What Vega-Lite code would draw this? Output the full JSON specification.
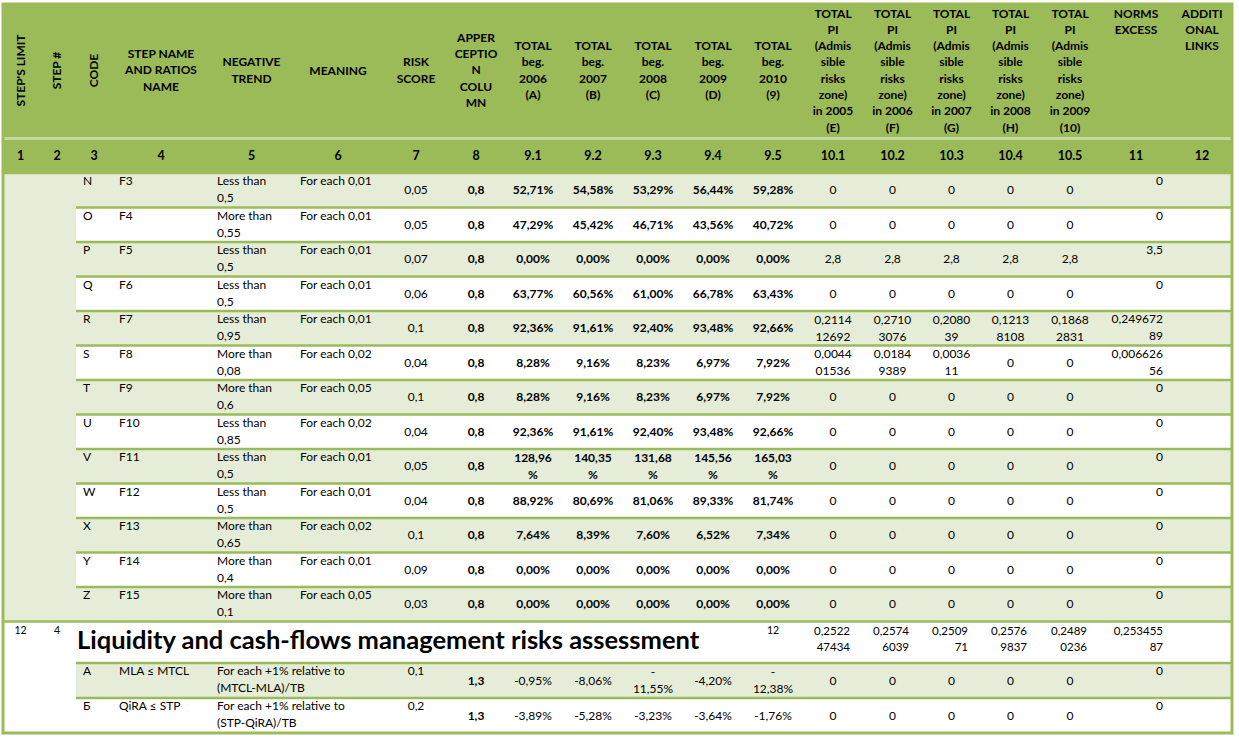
{
"$schema": "https://vega.github.io/schema/vega-lite/v6.json",
"width": 1239, "height": 739,
"autosize": {"type": "fit", "contains": "padding"},
"padding": 0,
"background": "#ffffff",
"config": {"view": {"stroke": null}, "font": "Lato", "text": {"font": "Lato", "color": "#000000"}},
"datasets": {
"cols": [
{"col":"limit","x0":3,"x1":38,"xm":20.5},
{"col":"step","x0":38,"x1":76,"xm":57},
{"col":"code","x0":76,"x1":112,"xm":94},
{"col":"name","x0":112,"x1":210,"xm":161},
{"col":"trend","x0":210,"x1":293,"xm":251.5},
{"col":"meaning","x0":293,"x1":383,"xm":338},
{"col":"risk","x0":383,"x1":449,"xm":416},
{"col":"coef","x0":449,"x1":503,"xm":476},
{"col":"t2006","x0":503,"x1":563,"xm":533},
{"col":"t2007","x0":563,"x1":623,"xm":593},
{"col":"t2008","x0":623,"x1":683,"xm":653},
{"col":"t2009","x0":683,"x1":743,"xm":713},
{"col":"t2010","x0":743,"x1":803,"xm":773},
{"col":"pi2005","x0":803,"x1":863,"xm":833},
{"col":"pi2006","x0":863,"x1":922,"xm":892.5},
{"col":"pi2007","x0":922,"x1":981,"xm":951.5},
{"col":"pi2008","x0":981,"x1":1040,"xm":1010.5},
{"col":"pi2009","x0":1040,"x1":1100,"xm":1070},
{"col":"excess","x0":1100,"x1":1172,"xm":1136},
{"col":"links","x0":1172,"x1":1232,"xm":1202},
{"col":"title","x0":76,"x1":743,"xm":409.5}
],
"rows": [
{"r":"head","y0":4,"y1":137,"ym":70.5},
{"r":"num","y0":140,"y1":172,"ym":156},
{"r":"N","y0":173,"y1":207.5,"ym":190.25},
{"r":"O","y0":207.5,"y1":242,"ym":224.75},
{"r":"P","y0":242,"y1":276.5,"ym":259.25},
{"r":"Q","y0":276.5,"y1":311,"ym":293.75},
{"r":"R","y0":311,"y1":345.5,"ym":328.25},
{"r":"S","y0":345.5,"y1":380,"ym":362.75},
{"r":"T","y0":380,"y1":414.5,"ym":397.25},
{"r":"U","y0":414.5,"y1":449,"ym":431.75},
{"r":"V","y0":449,"y1":483.5,"ym":466.25},
{"r":"W","y0":483.5,"y1":518,"ym":500.75},
{"r":"X","y0":518,"y1":552.5,"ym":535.25},
{"r":"Y","y0":552.5,"y1":587,"ym":569.75},
{"r":"Z","y0":587,"y1":621.5,"ym":604.25},
{"r":"L","y0":621.5,"y1":663,"ym":642.25},
{"r":"A","y0":663,"y1":698,"ym":680.5},
{"r":"B","y0":698,"y1":733,"ym":715.5}
],
"spans": [
{"g":"band","c0":"limit","c1":"links","r0":"head","r1":"num"},
{"g":"head","c0":"limit","c1":"links","r0":"head","r1":"head"},
{"g":"head","c0":"limit","c1":"links","r0":"num","r1":"num"},
{"g":"shade","c0":"limit","c1":"step","r0":"N","r1":"Z"},
{"g":"shade","c0":"code","c1":"links","r0":"N","r1":"N"},
{"g":"plain","c0":"code","c1":"links","r0":"O","r1":"O"},
{"g":"shade","c0":"code","c1":"links","r0":"P","r1":"P"},
{"g":"plain","c0":"code","c1":"links","r0":"Q","r1":"Q"},
{"g":"shade","c0":"code","c1":"links","r0":"R","r1":"R"},
{"g":"plain","c0":"code","c1":"links","r0":"S","r1":"S"},
{"g":"shade","c0":"code","c1":"links","r0":"T","r1":"T"},
{"g":"plain","c0":"code","c1":"links","r0":"U","r1":"U"},
{"g":"shade","c0":"code","c1":"links","r0":"V","r1":"V"},
{"g":"plain","c0":"code","c1":"links","r0":"W","r1":"W"},
{"g":"shade","c0":"code","c1":"links","r0":"X","r1":"X"},
{"g":"plain","c0":"code","c1":"links","r0":"Y","r1":"Y"},
{"g":"shade","c0":"code","c1":"links","r0":"Z","r1":"Z"},
{"g":"plain","c0":"limit","c1":"links","r0":"L","r1":"L"},
{"g":"plain","c0":"limit","c1":"step","r0":"A","r1":"B"},
{"g":"shade","c0":"code","c1":"links","r0":"A","r1":"A"},
{"g":"plain","c0":"code","c1":"links","r0":"B","r1":"B"},
{"g":"frame","c0":"limit","c1":"links","r0":"head","r1":"B"}
],
"lines": [
{"r":"N","c0":"limit","c1":"links"},
{"r":"O","c0":"code","c1":"links"},
{"r":"P","c0":"code","c1":"links"},
{"r":"Q","c0":"code","c1":"links"},
{"r":"R","c0":"code","c1":"links"},
{"r":"S","c0":"code","c1":"links"},
{"r":"T","c0":"code","c1":"links"},
{"r":"U","c0":"code","c1":"links"},
{"r":"V","c0":"code","c1":"links"},
{"r":"W","c0":"code","c1":"links"},
{"r":"X","c0":"code","c1":"links"},
{"r":"Y","c0":"code","c1":"links"},
{"r":"Z","c0":"code","c1":"links"},
{"r":"L","c0":"limit","c1":"links"},
{"r":"A","c0":"code","c1":"links"},
{"r":"B","c0":"code","c1":"links"}
],
"header": [
{"r":"head","col":"limit","t":"STEP'S LIMIT"},
{"r":"head","col":"step","t":"STEP #"},
{"r":"head","col":"code","t":"CODE"},
{"r":"head","col":"name","t":["STEP NAME","AND RATIOS","NAME"]},
{"r":"head","col":"trend","t":["NEGATIVE","TREND"]},
{"r":"head","col":"meaning","t":"MEANING"},
{"r":"head","col":"risk","t":["RISK","SCORE"]},
{"r":"head","col":"coef","t":["APPER","CEPTIO","N","COLU","MN"]},
{"r":"head","col":"t2006","t":["TOTAL","beg.","2006","(A)"]},
{"r":"head","col":"t2007","t":["TOTAL","beg.","2007","(B)"]},
{"r":"head","col":"t2008","t":["TOTAL","beg.","2008","(C)"]},
{"r":"head","col":"t2009","t":["TOTAL","beg.","2009","(D)"]},
{"r":"head","col":"t2010","t":["TOTAL","beg.","2010","(9)"]},
{"r":"head","col":"pi2005","t":["TOTAL","PI","(Admis","sible","risks","zone)","in 2005","(E)"]},
{"r":"head","col":"pi2006","t":["TOTAL","PI","(Admis","sible","risks","zone)","in 2006","(F)"]},
{"r":"head","col":"pi2007","t":["TOTAL","PI","(Admis","sible","risks","zone)","in 2007","(G)"]},
{"r":"head","col":"pi2008","t":["TOTAL","PI","(Admis","sible","risks","zone)","in 2008","(H)"]},
{"r":"head","col":"pi2009","t":["TOTAL","PI","(Admis","sible","risks","zone)","in 2009","(10)"]},
{"r":"head","col":"excess","t":["NORMS","EXCESS"]},
{"r":"head","col":"links","t":["ADDITI","ONAL","LINKS"]},
{"r":"num","col":"limit","t":"1"},
{"r":"num","col":"step","t":"2"},
{"r":"num","col":"code","t":"3"},
{"r":"num","col":"name","t":"4"},
{"r":"num","col":"trend","t":"5"},
{"r":"num","col":"meaning","t":"6"},
{"r":"num","col":"risk","t":"7"},
{"r":"num","col":"coef","t":"8"},
{"r":"num","col":"t2006","t":"9.1"},
{"r":"num","col":"t2007","t":"9.2"},
{"r":"num","col":"t2008","t":"9.3"},
{"r":"num","col":"t2009","t":"9.4"},
{"r":"num","col":"t2010","t":"9.5"},
{"r":"num","col":"pi2005","t":"10.1"},
{"r":"num","col":"pi2006","t":"10.2"},
{"r":"num","col":"pi2007","t":"10.3"},
{"r":"num","col":"pi2008","t":"10.4"},
{"r":"num","col":"pi2009","t":"10.5"},
{"r":"num","col":"excess","t":"11"},
{"r":"num","col":"links","t":"12"}
],
"ratios": [
{"r":"N","block":"F","code":"N","name":"F3","trend":["Less than","0,5"],"meaning":"For each 0,01","risk":"0,05","coef":"0,8","t2006":"52,71%","t2007":"54,58%","t2008":"53,29%","t2009":"56,44%","t2010":"59,28%","pi2005":"0","pi2006":"0","pi2007":"0","pi2008":"0","pi2009":"0","excess":"0"},
{"r":"O","block":"F","code":"O","name":"F4","trend":["More than","0,55"],"meaning":"For each 0,01","risk":"0,05","coef":"0,8","t2006":"47,29%","t2007":"45,42%","t2008":"46,71%","t2009":"43,56%","t2010":"40,72%","pi2005":"0","pi2006":"0","pi2007":"0","pi2008":"0","pi2009":"0","excess":"0"},
{"r":"P","block":"F","code":"P","name":"F5","trend":["Less than","0,5"],"meaning":"For each 0,01","risk":"0,07","coef":"0,8","t2006":"0,00%","t2007":"0,00%","t2008":"0,00%","t2009":"0,00%","t2010":"0,00%","pi2005":"2,8","pi2006":"2,8","pi2007":"2,8","pi2008":"2,8","pi2009":"2,8","excess":"3,5"},
{"r":"Q","block":"F","code":"Q","name":"F6","trend":["Less than","0,5"],"meaning":"For each 0,01","risk":"0,06","coef":"0,8","t2006":"63,77%","t2007":"60,56%","t2008":"61,00%","t2009":"66,78%","t2010":"63,43%","pi2005":"0","pi2006":"0","pi2007":"0","pi2008":"0","pi2009":"0","excess":"0"},
{"r":"R","block":"F","code":"R","name":"F7","trend":["Less than","0,95"],"meaning":"For each 0,01","risk":"0,1","coef":"0,8","t2006":"92,36%","t2007":"91,61%","t2008":"92,40%","t2009":"93,48%","t2010":"92,66%","pi2005":["0,2114","12692"],"pi2006":["0,2710","3076"],"pi2007":["0,2080","39"],"pi2008":["0,1213","8108"],"pi2009":["0,1868","2831"],"excess":["0,249672","89"]},
{"r":"S","block":"F","code":"S","name":"F8","trend":["More than","0,08"],"meaning":"For each 0,02","risk":"0,04","coef":"0,8","t2006":"8,28%","t2007":"9,16%","t2008":"8,23%","t2009":"6,97%","t2010":"7,92%","pi2005":["0,0044","01536"],"pi2006":["0,0184","9389"],"pi2007":["0,0036","11"],"pi2008":"0","pi2009":"0","excess":["0,006626","56"]},
{"r":"T","block":"F","code":"T","name":"F9","trend":["More than","0,6"],"meaning":"For each 0,05","risk":"0,1","coef":"0,8","t2006":"8,28%","t2007":"9,16%","t2008":"8,23%","t2009":"6,97%","t2010":"7,92%","pi2005":"0","pi2006":"0","pi2007":"0","pi2008":"0","pi2009":"0","excess":"0"},
{"r":"U","block":"F","code":"U","name":"F10","trend":["Less than","0,85"],"meaning":"For each 0,02","risk":"0,04","coef":"0,8","t2006":"92,36%","t2007":"91,61%","t2008":"92,40%","t2009":"93,48%","t2010":"92,66%","pi2005":"0","pi2006":"0","pi2007":"0","pi2008":"0","pi2009":"0","excess":"0"},
{"r":"V","block":"F","code":"V","name":"F11","trend":["Less than","0,5"],"meaning":"For each 0,01","risk":"0,05","coef":"0,8","t2006":["128,96","%"],"t2007":["140,35","%"],"t2008":["131,68","%"],"t2009":["145,56","%"],"t2010":["165,03","%"],"pi2005":"0","pi2006":"0","pi2007":"0","pi2008":"0","pi2009":"0","excess":"0"},
{"r":"W","block":"F","code":"W","name":"F12","trend":["Less than","0,5"],"meaning":"For each 0,01","risk":"0,04","coef":"0,8","t2006":"88,92%","t2007":"80,69%","t2008":"81,06%","t2009":"89,33%","t2010":"81,74%","pi2005":"0","pi2006":"0","pi2007":"0","pi2008":"0","pi2009":"0","excess":"0"},
{"r":"X","block":"F","code":"X","name":"F13","trend":["More than","0,65"],"meaning":"For each 0,02","risk":"0,1","coef":"0,8","t2006":"7,64%","t2007":"8,39%","t2008":"7,60%","t2009":"6,52%","t2010":"7,34%","pi2005":"0","pi2006":"0","pi2007":"0","pi2008":"0","pi2009":"0","excess":"0"},
{"r":"Y","block":"F","code":"Y","name":"F14","trend":["More than","0,4"],"meaning":"For each 0,01","risk":"0,09","coef":"0,8","t2006":"0,00%","t2007":"0,00%","t2008":"0,00%","t2009":"0,00%","t2010":"0,00%","pi2005":"0","pi2006":"0","pi2007":"0","pi2008":"0","pi2009":"0","excess":"0"},
{"r":"Z","block":"F","code":"Z","name":"F15","trend":["More than","0,1"],"meaning":"For each 0,05","risk":"0,03","coef":"0,8","t2006":"0,00%","t2007":"0,00%","t2008":"0,00%","t2009":"0,00%","t2010":"0,00%","pi2005":"0","pi2006":"0","pi2007":"0","pi2008":"0","pi2009":"0","excess":"0"},
{"r":"A","block":"L","code":"А","name":"MLA ≤ MTCL","trend":["For each +1% relative to","(MTCL-MLA)/TB"],"risk":"0,1","coef":"1,3","t2006":"-0,95%","t2007":"-8,06%","t2008":["-","11,55%"],"t2009":"-4,20%","t2010":["-","12,38%"],"pi2005":"0","pi2006":"0","pi2007":"0","pi2008":"0","pi2009":"0","excess":"0"},
{"r":"B","block":"L","code":"Б","name":"QiRA  ≤ STP","trend":["For each +1% relative to","(STP-QiRA)/TB"],"risk":"0,2","coef":"1,3","t2006":"-3,89%","t2007":"-5,28%","t2008":"-3,23%","t2009":"-3,64%","t2010":"-1,76%","pi2005":"0","pi2006":"0","pi2007":"0","pi2008":"0","pi2009":"0","excess":"0"}
],
"group": [
{"r":"L","limit":"12","step":"4","title":"Liquidity and cash-flows management risks assessment","t2010":"12","pi2005":["0,2522","47434"],"pi2006":["0,2574","6039"],"pi2007":["0,2509","71"],"pi2008":["0,2576","9837"],"pi2009":["0,2489","0236"],"excess":["0,253455","87"]}
]
},
"layer": [
{
"data": {"name": "spans"},
"transform": [
{"filter": "datum.g !== 'frame'"},
{"lookup": "c0", "from": {"data": {"name": "cols"}, "key": "col", "fields": ["x0"]}, "as": ["sx0"]},
{"lookup": "c1", "from": {"data": {"name": "cols"}, "key": "col", "fields": ["x1"]}, "as": ["sx1"]},
{"lookup": "r0", "from": {"data": {"name": "rows"}, "key": "r", "fields": ["y0"]}, "as": ["sy0"]},
{"lookup": "r1", "from": {"data": {"name": "rows"}, "key": "r", "fields": ["y1"]}, "as": ["sy1"]}
],
"mark": {"type": "rect"},
"encoding": {
"x": {"field": "sx0", "type": "quantitative", "scale": {"domain": [0, 1239], "nice": false, "zero": false}, "axis": null},
"x2": {"field": "sx1"},
"y": {"field": "sy0", "type": "quantitative", "scale": {"domain": [0, 739], "nice": false, "zero": false, "reverse": true}, "axis": null},
"y2": {"field": "sy1"},
"color": {"field": "g", "type": "nominal", "scale": {"domain": ["band", "head", "shade", "plain"], "range": ["#C6D9A1", "#9BBB59", "#E5EDD8", "#FFFFFF"]}, "legend": null}
}
},
{
"data": {"name": "lines"},
"transform": [
{"lookup": "c0", "from": {"data": {"name": "cols"}, "key": "col", "fields": ["x0"]}, "as": ["lx0"]},
{"lookup": "c1", "from": {"data": {"name": "cols"}, "key": "col", "fields": ["x1"]}, "as": ["lx1"]},
{"lookup": "r", "from": {"data": {"name": "rows"}, "key": "r", "fields": ["y0"]}, "as": ["ly"]}
],
"mark": {"type": "rule", "color": "#9BBB59", "strokeWidth": 2.5},
"encoding": {
"x": {"field": "lx0", "type": "quantitative", "scale": {"domain": [0, 1239], "nice": false, "zero": false}, "axis": null},
"x2": {"field": "lx1"},
"y": {"field": "ly", "type": "quantitative", "scale": {"domain": [0, 739], "nice": false, "zero": false, "reverse": true}, "axis": null}
}
},
{
"data": {"name": "spans"},
"transform": [
{"filter": "datum.g === 'frame'"},
{"lookup": "c0", "from": {"data": {"name": "cols"}, "key": "col", "fields": ["x0"]}, "as": ["sx0"]},
{"lookup": "c1", "from": {"data": {"name": "cols"}, "key": "col", "fields": ["x1"]}, "as": ["sx1"]},
{"lookup": "r0", "from": {"data": {"name": "rows"}, "key": "r", "fields": ["y0"]}, "as": ["sy0"]},
{"lookup": "r1", "from": {"data": {"name": "rows"}, "key": "r", "fields": ["y1"]}, "as": ["sy1"]}
],
"mark": {"type": "rect", "filled": false, "stroke": "#9BBB59", "strokeWidth": 3},
"encoding": {
"x": {"field": "sx0", "type": "quantitative", "scale": {"domain": [0, 1239], "nice": false, "zero": false}, "axis": null},
"x2": {"field": "sx1"},
"y": {"field": "sy0", "type": "quantitative", "scale": {"domain": [0, 739], "nice": false, "zero": false, "reverse": true}, "axis": null},
"y2": {"field": "sy1"}
}
},
{
"data": {"name": "header"},
"transform": [
{"filter": "datum.r === 'head' && indexof(['limit','step','code'], datum.col) >= 0"},
{"lookup": "col", "from": {"data": {"name": "cols"}, "key": "col", "fields": ["x0", "x1", "xm"]}},
{"lookup": "r", "from": {"data": {"name": "rows"}, "key": "r", "fields": ["y0", "y1", "ym"]}}
],
"mark": {"type": "text", "angle": 270, "align": "center", "baseline": "middle", "fontSize": 12, "fontWeight": "bold", "font": "Lato"},
"encoding": {
"x": {"field": "xm", "type": "quantitative", "scale": {"domain": [0, 1239], "nice": false, "zero": false}, "axis": null},
"y": {"field": "ym", "type": "quantitative", "scale": {"domain": [0, 739], "nice": false, "zero": false, "reverse": true}, "axis": null},
"text": {"field": "t"}
}
},
{
"data": {"name": "header"},
"transform": [
{"filter": "datum.r === 'head' && datum.col === 'meaning'"},
{"lookup": "col", "from": {"data": {"name": "cols"}, "key": "col", "fields": ["x0", "x1", "xm"]}},
{"lookup": "r", "from": {"data": {"name": "rows"}, "key": "r", "fields": ["y0", "y1", "ym"]}}
],
"mark": {"type": "text", "align": "center", "baseline": "middle", "fontSize": 12, "fontWeight": "bold", "font": "Lato"},
"encoding": {
"x": {"field": "xm", "type": "quantitative", "scale": {"domain": [0, 1239], "nice": false, "zero": false}, "axis": null},
"y": {"field": "ym", "type": "quantitative", "scale": {"domain": [0, 739], "nice": false, "zero": false, "reverse": true}, "axis": null},
"text": {"field": "t"}
}
},
{
"data": {"name": "header"},
"transform": [
{"filter": "datum.r === 'head' && indexof(['trend','risk'], datum.col) >= 0"},
{"lookup": "col", "from": {"data": {"name": "cols"}, "key": "col", "fields": ["x0", "x1", "xm"]}},
{"lookup": "r", "from": {"data": {"name": "rows"}, "key": "r", "fields": ["y0", "y1", "ym"]}}
],
"mark": {"type": "text", "align": "center", "baseline": "middle", "dy": -8.15, "fontSize": 12, "fontWeight": "bold", "lineHeight": 16.3, "font": "Lato"},
"encoding": {
"x": {"field": "xm", "type": "quantitative", "scale": {"domain": [0, 1239], "nice": false, "zero": false}, "axis": null},
"y": {"field": "ym", "type": "quantitative", "scale": {"domain": [0, 739], "nice": false, "zero": false, "reverse": true}, "axis": null},
"text": {"field": "t"}
}
},
{
"data": {"name": "header"},
"transform": [
{"filter": "datum.r === 'head' && datum.col === 'name'"},
{"lookup": "col", "from": {"data": {"name": "cols"}, "key": "col", "fields": ["x0", "x1", "xm"]}},
{"lookup": "r", "from": {"data": {"name": "rows"}, "key": "r", "fields": ["y0", "y1", "ym"]}}
],
"mark": {"type": "text", "align": "center", "baseline": "middle", "dy": -16.3, "fontSize": 12, "fontWeight": "bold", "lineHeight": 16.3, "font": "Lato"},
"encoding": {
"x": {"field": "xm", "type": "quantitative", "scale": {"domain": [0, 1239], "nice": false, "zero": false}, "axis": null},
"y": {"field": "ym", "type": "quantitative", "scale": {"domain": [0, 739], "nice": false, "zero": false, "reverse": true}, "axis": null},
"text": {"field": "t"}
}
},
{
"data": {"name": "header"},
"transform": [
{"filter": "datum.r === 'head' && indexof(['t2006','t2007','t2008','t2009','t2010'], datum.col) >= 0"},
{"lookup": "col", "from": {"data": {"name": "cols"}, "key": "col", "fields": ["x0", "x1", "xm"]}},
{"lookup": "r", "from": {"data": {"name": "rows"}, "key": "r", "fields": ["y0", "y1", "ym"]}}
],
"mark": {"type": "text", "align": "center", "baseline": "middle", "dy": -24.45, "fontSize": 12, "fontWeight": "bold", "lineHeight": 16.3, "font": "Lato"},
"encoding": {
"x": {"field": "xm", "type": "quantitative", "scale": {"domain": [0, 1239], "nice": false, "zero": false}, "axis": null},
"y": {"field": "ym", "type": "quantitative", "scale": {"domain": [0, 739], "nice": false, "zero": false, "reverse": true}, "axis": null},
"text": {"field": "t"}
}
},
{
"data": {"name": "header"},
"transform": [
{"filter": "datum.r === 'head' && datum.col === 'coef'"},
{"lookup": "col", "from": {"data": {"name": "cols"}, "key": "col", "fields": ["x0", "x1", "xm"]}},
{"lookup": "r", "from": {"data": {"name": "rows"}, "key": "r", "fields": ["y0", "y1", "ym"]}}
],
"mark": {"type": "text", "align": "center", "baseline": "middle", "dy": -32.6, "fontSize": 12, "fontWeight": "bold", "lineHeight": 16.3, "font": "Lato"},
"encoding": {
"x": {"field": "xm", "type": "quantitative", "scale": {"domain": [0, 1239], "nice": false, "zero": false}, "axis": null},
"y": {"field": "ym", "type": "quantitative", "scale": {"domain": [0, 739], "nice": false, "zero": false, "reverse": true}, "axis": null},
"text": {"field": "t"}
}
},
{
"data": {"name": "header"},
"transform": [
{"filter": "datum.r === 'head' && indexof(['pi2005','pi2006','pi2007','pi2008','pi2009','excess','links'], datum.col) >= 0"},
{"lookup": "col", "from": {"data": {"name": "cols"}, "key": "col", "fields": ["x0", "x1", "xm"]}},
{"lookup": "r", "from": {"data": {"name": "rows"}, "key": "r", "fields": ["y0", "y1", "ym"]}}
],
"mark": {"type": "text", "align": "center", "baseline": "top", "dy": 4.5, "fontSize": 12, "fontWeight": "bold", "lineHeight": 16.3, "font": "Lato"},
"encoding": {
"x": {"field": "xm", "type": "quantitative", "scale": {"domain": [0, 1239], "nice": false, "zero": false}, "axis": null},
"y": {"field": "y0", "type": "quantitative", "scale": {"domain": [0, 739], "nice": false, "zero": false, "reverse": true}, "axis": null},
"text": {"field": "t"}
}
},
{
"data": {"name": "header"},
"transform": [
{"filter": "datum.r === 'num'"},
{"lookup": "col", "from": {"data": {"name": "cols"}, "key": "col", "fields": ["x0", "x1", "xm"]}},
{"lookup": "r", "from": {"data": {"name": "rows"}, "key": "r", "fields": ["y0", "y1", "ym"]}}
],
"mark": {"type": "text", "align": "center", "baseline": "middle", "fontSize": 12.5, "fontWeight": "bold", "font": "Lato"},
"encoding": {
"x": {"field": "xm", "type": "quantitative", "scale": {"domain": [0, 1239], "nice": false, "zero": false}, "axis": null},
"y": {"field": "ym", "type": "quantitative", "scale": {"domain": [0, 739], "nice": false, "zero": false, "reverse": true}, "axis": null},
"text": {"field": "t"}
}
},
{
"data": {"name": "ratios"},
"transform": [
{"fold": ["code", "name", "trend", "meaning"], "as": ["col", "t"]},
{"filter": "isValid(datum.t)"},
{"lookup": "col", "from": {"data": {"name": "cols"}, "key": "col", "fields": ["x0", "x1", "xm"]}},
{"lookup": "r", "from": {"data": {"name": "rows"}, "key": "r", "fields": ["y0", "y1", "ym"]}}
],
"mark": {"type": "text", "align": "left", "baseline": "top", "dx": 7, "dy": 3, "fontSize": 12, "lineHeight": 17, "font": "Lato"},
"encoding": {
"x": {"field": "x0", "type": "quantitative", "scale": {"domain": [0, 1239], "nice": false, "zero": false}, "axis": null},
"y": {"field": "y0", "type": "quantitative", "scale": {"domain": [0, 739], "nice": false, "zero": false, "reverse": true}, "axis": null},
"text": {"field": "t"}
}
},
{
"data": {"name": "ratios"},
"transform": [
{"filter": "datum.block === 'F'"},
{"fold": ["risk", "pi2005", "pi2006", "pi2007", "pi2008", "pi2009"], "as": ["col", "t"]},
{"filter": "!isArray(datum.t)"},
{"lookup": "col", "from": {"data": {"name": "cols"}, "key": "col", "fields": ["x0", "x1", "xm"]}},
{"lookup": "r", "from": {"data": {"name": "rows"}, "key": "r", "fields": ["y0", "y1", "ym"]}}
],
"mark": {"type": "text", "align": "center", "baseline": "middle", "fontSize": 12, "font": "Lato"},
"encoding": {
"x": {"field": "xm", "type": "quantitative", "scale": {"domain": [0, 1239], "nice": false, "zero": false}, "axis": null},
"y": {"field": "ym", "type": "quantitative", "scale": {"domain": [0, 739], "nice": false, "zero": false, "reverse": true}, "axis": null},
"text": {"field": "t"}
}
},
{
"data": {"name": "ratios"},
"transform": [
{"filter": "datum.block === 'F'"},
{"fold": ["risk", "pi2005", "pi2006", "pi2007", "pi2008", "pi2009"], "as": ["col", "t"]},
{"filter": "isArray(datum.t)"},
{"lookup": "col", "from": {"data": {"name": "cols"}, "key": "col", "fields": ["x0", "x1", "xm"]}},
{"lookup": "r", "from": {"data": {"name": "rows"}, "key": "r", "fields": ["y0", "y1", "ym"]}}
],
"mark": {"type": "text", "align": "center", "baseline": "middle", "dy": -8.5, "fontSize": 12, "lineHeight": 17, "font": "Lato"},
"encoding": {
"x": {"field": "xm", "type": "quantitative", "scale": {"domain": [0, 1239], "nice": false, "zero": false}, "axis": null},
"y": {"field": "ym", "type": "quantitative", "scale": {"domain": [0, 739], "nice": false, "zero": false, "reverse": true}, "axis": null},
"text": {"field": "t"}
}
},
{
"data": {"name": "ratios"},
"transform": [
{"filter": "datum.block === 'F'"},
{"fold": ["coef", "t2006", "t2007", "t2008", "t2009", "t2010"], "as": ["col", "t"]},
{"filter": "!isArray(datum.t)"},
{"lookup": "col", "from": {"data": {"name": "cols"}, "key": "col", "fields": ["x0", "x1", "xm"]}},
{"lookup": "r", "from": {"data": {"name": "rows"}, "key": "r", "fields": ["y0", "y1", "ym"]}}
],
"mark": {"type": "text", "align": "center", "baseline": "middle", "fontSize": 12, "fontWeight": "bold", "font": "Lato"},
"encoding": {
"x": {"field": "xm", "type": "quantitative", "scale": {"domain": [0, 1239], "nice": false, "zero": false}, "axis": null},
"y": {"field": "ym", "type": "quantitative", "scale": {"domain": [0, 739], "nice": false, "zero": false, "reverse": true}, "axis": null},
"text": {"field": "t"}
}
},
{
"data": {"name": "ratios"},
"transform": [
{"filter": "datum.block === 'F'"},
{"fold": ["coef", "t2006", "t2007", "t2008", "t2009", "t2010"], "as": ["col", "t"]},
{"filter": "isArray(datum.t)"},
{"lookup": "col", "from": {"data": {"name": "cols"}, "key": "col", "fields": ["x0", "x1", "xm"]}},
{"lookup": "r", "from": {"data": {"name": "rows"}, "key": "r", "fields": ["y0", "y1", "ym"]}}
],
"mark": {"type": "text", "align": "center", "baseline": "middle", "dy": -8.5, "fontSize": 12, "fontWeight": "bold", "lineHeight": 17, "font": "Lato"},
"encoding": {
"x": {"field": "xm", "type": "quantitative", "scale": {"domain": [0, 1239], "nice": false, "zero": false}, "axis": null},
"y": {"field": "ym", "type": "quantitative", "scale": {"domain": [0, 739], "nice": false, "zero": false, "reverse": true}, "axis": null},
"text": {"field": "t"}
}
},
{
"data": {"name": "ratios"},
"transform": [
{"filter": "datum.block === 'L'"},
{"fold": ["t2006", "t2007", "t2008", "t2009", "t2010", "pi2005", "pi2006", "pi2007", "pi2008", "pi2009"], "as": ["col", "t"]},
{"filter": "!isArray(datum.t)"},
{"lookup": "col", "from": {"data": {"name": "cols"}, "key": "col", "fields": ["x0", "x1", "xm"]}},
{"lookup": "r", "from": {"data": {"name": "rows"}, "key": "r", "fields": ["y0", "y1", "ym"]}}
],
"mark": {"type": "text", "align": "center", "baseline": "middle", "fontSize": 12, "font": "Lato"},
"encoding": {
"x": {"field": "xm", "type": "quantitative", "scale": {"domain": [0, 1239], "nice": false, "zero": false}, "axis": null},
"y": {"field": "ym", "type": "quantitative", "scale": {"domain": [0, 739], "nice": false, "zero": false, "reverse": true}, "axis": null},
"text": {"field": "t"}
}
},
{
"data": {"name": "ratios"},
"transform": [
{"filter": "datum.block === 'L'"},
{"fold": ["t2006", "t2007", "t2008", "t2009", "t2010"], "as": ["col", "t"]},
{"filter": "isArray(datum.t)"},
{"lookup": "col", "from": {"data": {"name": "cols"}, "key": "col", "fields": ["x0", "x1", "xm"]}},
{"lookup": "r", "from": {"data": {"name": "rows"}, "key": "r", "fields": ["y0", "y1", "ym"]}}
],
"mark": {"type": "text", "align": "center", "baseline": "middle", "dy": -8.5, "fontSize": 12, "lineHeight": 17, "font": "Lato"},
"encoding": {
"x": {"field": "xm", "type": "quantitative", "scale": {"domain": [0, 1239], "nice": false, "zero": false}, "axis": null},
"y": {"field": "ym", "type": "quantitative", "scale": {"domain": [0, 739], "nice": false, "zero": false, "reverse": true}, "axis": null},
"text": {"field": "t"}
}
},
{
"data": {"name": "ratios"},
"transform": [
{"filter": "datum.block === 'L'"},
{"fold": ["coef"], "as": ["col", "t"]},
{"lookup": "col", "from": {"data": {"name": "cols"}, "key": "col", "fields": ["x0", "x1", "xm"]}},
{"lookup": "r", "from": {"data": {"name": "rows"}, "key": "r", "fields": ["y0", "y1", "ym"]}}
],
"mark": {"type": "text", "align": "center", "baseline": "middle", "fontSize": 12, "fontWeight": "bold", "font": "Lato"},
"encoding": {
"x": {"field": "xm", "type": "quantitative", "scale": {"domain": [0, 1239], "nice": false, "zero": false}, "axis": null},
"y": {"field": "ym", "type": "quantitative", "scale": {"domain": [0, 739], "nice": false, "zero": false, "reverse": true}, "axis": null},
"text": {"field": "t"}
}
},
{
"data": {"name": "ratios"},
"transform": [
{"filter": "datum.block === 'L'"},
{"fold": ["risk"], "as": ["col", "t"]},
{"lookup": "col", "from": {"data": {"name": "cols"}, "key": "col", "fields": ["x0", "x1", "xm"]}},
{"lookup": "r", "from": {"data": {"name": "rows"}, "key": "r", "fields": ["y0", "y1", "ym"]}}
],
"mark": {"type": "text", "align": "center", "baseline": "top", "dy": 3, "fontSize": 12, "font": "Lato"},
"encoding": {
"x": {"field": "xm", "type": "quantitative", "scale": {"domain": [0, 1239], "nice": false, "zero": false}, "axis": null},
"y": {"field": "y0", "type": "quantitative", "scale": {"domain": [0, 739], "nice": false, "zero": false, "reverse": true}, "axis": null},
"text": {"field": "t"}
}
},
{
"data": {"name": "ratios"},
"transform": [
{"fold": ["excess"], "as": ["col", "t"]},
{"lookup": "col", "from": {"data": {"name": "cols"}, "key": "col", "fields": ["x0", "x1", "xm"]}},
{"lookup": "r", "from": {"data": {"name": "rows"}, "key": "r", "fields": ["y0", "y1", "ym"]}}
],
"mark": {"type": "text", "align": "right", "baseline": "top", "dx": -9, "dy": 3, "fontSize": 12, "lineHeight": 17, "font": "Lato"},
"encoding": {
"x": {"field": "x1", "type": "quantitative", "scale": {"domain": [0, 1239], "nice": false, "zero": false}, "axis": null},
"y": {"field": "y0", "type": "quantitative", "scale": {"domain": [0, 739], "nice": false, "zero": false, "reverse": true}, "axis": null},
"text": {"field": "t"}
}
},
{
"data": {"name": "group"},
"transform": [
{"fold": ["limit", "step", "t2010"], "as": ["col", "t"]},
{"lookup": "col", "from": {"data": {"name": "cols"}, "key": "col", "fields": ["x0", "x1", "xm"]}},
{"lookup": "r", "from": {"data": {"name": "rows"}, "key": "r", "fields": ["y0", "y1", "ym"]}}
],
"mark": {"type": "text", "align": "center", "baseline": "top", "dy": 4, "fontSize": 10.5, "font": "Lato"},
"encoding": {
"x": {"field": "xm", "type": "quantitative", "scale": {"domain": [0, 1239], "nice": false, "zero": false}, "axis": null},
"y": {"field": "y0", "type": "quantitative", "scale": {"domain": [0, 739], "nice": false, "zero": false, "reverse": true}, "axis": null},
"text": {"field": "t"}
}
},
{
"data": {"name": "group"},
"transform": [
{"fold": ["title"], "as": ["col", "t"]},
{"lookup": "col", "from": {"data": {"name": "cols"}, "key": "col", "fields": ["x0", "x1", "xm"]}},
{"lookup": "r", "from": {"data": {"name": "rows"}, "key": "r", "fields": ["y0", "y1", "ym"]}}
],
"mark": {"type": "text", "align": "left", "baseline": "middle", "dx": 1, "dy": -1, "fontSize": 25.5, "fontWeight": "bold", "font": "Lato"},
"encoding": {
"x": {"field": "x0", "type": "quantitative", "scale": {"domain": [0, 1239], "nice": false, "zero": false}, "axis": null},
"y": {"field": "ym", "type": "quantitative", "scale": {"domain": [0, 739], "nice": false, "zero": false, "reverse": true}, "axis": null},
"text": {"field": "t"}
}
},
{
"data": {"name": "group"},
"transform": [
{"fold": ["pi2005", "pi2006", "pi2007", "pi2008", "pi2009"], "as": ["col", "t"]},
{"lookup": "col", "from": {"data": {"name": "cols"}, "key": "col", "fields": ["x0", "x1", "xm"]}},
{"lookup": "r", "from": {"data": {"name": "rows"}, "key": "r", "fields": ["y0", "y1", "ym"]}}
],
"mark": {"type": "text", "align": "right", "baseline": "top", "dx": -13, "dy": 4, "fontSize": 11.5, "lineHeight": 16, "font": "Lato"},
"encoding": {
"x": {"field": "x1", "type": "quantitative", "scale": {"domain": [0, 1239], "nice": false, "zero": false}, "axis": null},
"y": {"field": "y0", "type": "quantitative", "scale": {"domain": [0, 739], "nice": false, "zero": false, "reverse": true}, "axis": null},
"text": {"field": "t"}
}
},
{
"data": {"name": "group"},
"transform": [
{"fold": ["excess"], "as": ["col", "t"]},
{"lookup": "col", "from": {"data": {"name": "cols"}, "key": "col", "fields": ["x0", "x1", "xm"]}},
{"lookup": "r", "from": {"data": {"name": "rows"}, "key": "r", "fields": ["y0", "y1", "ym"]}}
],
"mark": {"type": "text", "align": "right", "baseline": "top", "dx": -9, "dy": 4, "fontSize": 11.5, "lineHeight": 16, "font": "Lato"},
"encoding": {
"x": {"field": "x1", "type": "quantitative", "scale": {"domain": [0, 1239], "nice": false, "zero": false}, "axis": null},
"y": {"field": "y0", "type": "quantitative", "scale": {"domain": [0, 739], "nice": false, "zero": false, "reverse": true}, "axis": null},
"text": {"field": "t"}
}
}
]
}
